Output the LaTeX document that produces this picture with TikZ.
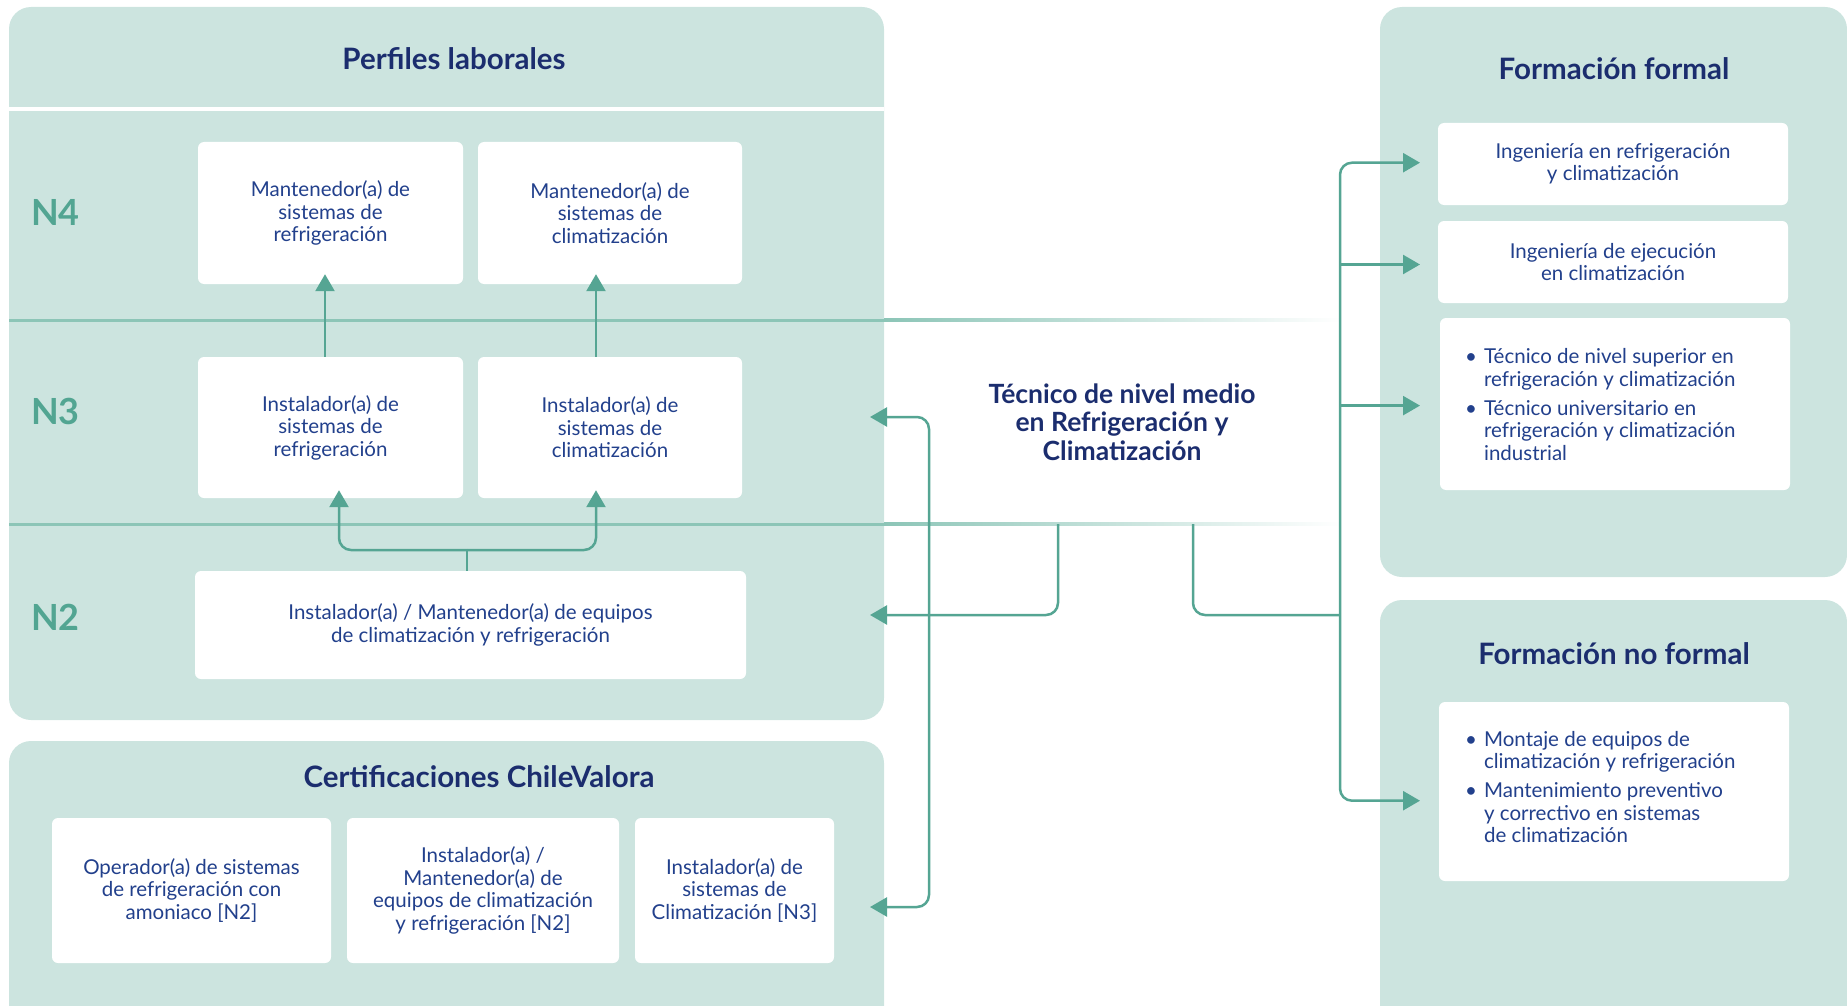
\documentclass[tikz,border=0pt]{standalone}
\usepackage{fontspec}
\setmainfont{Lato}
\usetikzlibrary{arrows.meta}
\definecolor{panelc}{HTML}{CCE4DF}
\definecolor{rowc}{HTML}{8CC5B7}
\definecolor{arrc}{HTML}{55A593}
\definecolor{lvlc}{HTML}{52A592}
\definecolor{navy}{HTML}{22408C}
\definecolor{navyd}{HTML}{1B2D6E}
\begin{document}
\begin{tikzpicture}[x=1pt,y=-1pt,
 panel/.style={fill=panelc, draw=none, rounded corners=22pt, inner sep=0pt},
 wbox/.style={fill=white, draw=none, rounded corners=6pt, inner sep=0pt, align=center, text=navy, font=\fontsize{20.5}{22.5}\selectfont},
 blist/.style={anchor=west, inner sep=0pt, text=navy, font=\fontsize{20.5}{22.4}\selectfont},
 ttl/.style={text=navyd, font=\fontsize{29.5}{34}\selectfont\bfseries, inner sep=0pt},
 lvl/.style={text=lvlc, font=\fontsize{36}{40}\selectfont\bfseries, anchor=west, inner sep=0pt},
 conn/.style={draw=arrc, line width=2.5pt, rounded corners=12pt},
 tip/.style={-{Triangle[length=17pt,width=19pt]}},
 tips/.style={{Triangle[length=17pt,width=19pt]}-{Triangle[length=17pt,width=19pt]}},
]
\useasboundingbox (0,0) rectangle (1847,1006);
\clip (0,0) rectangle (1847,1006);

% panels
\node[panel, minimum width=875pt, minimum height=713pt] (perf) at (446.5,363.5) {};
\node[panel, minimum width=875pt, minimum height=320pt] (cert) at (446.5,901) {};
\node[panel, minimum width=467pt, minimum height=570pt] (form) at (1613.5,292) {};
\node[panel, minimum width=467pt, minimum height=440pt] (nof) at (1613.5,820) {};

% header separator and row lines
\fill[white] (9,107) rectangle (884,111);
\fill[rowc] (9,318.5) rectangle (884,321.5);
\shade[left color=rowc, right color=white] (884,318.5) rectangle (1340,321.5);
\fill[rowc] (9,522.5) rectangle (884,525.5);
\shade[left color=rowc, right color=white] (884,522.5) rectangle (1340,525.5);

% titles
\node[ttl] (tperf) at (454,59) {Perfiles laborales};
\node[ttl] (tcert) at (479,777) {Certificaciones ChileValora};
\node[ttl] (tform) at (1614,69) {Formación formal};
\node[ttl] (tnof) at (1614,654) {Formación no formal};

% levels
\node[lvl] (l4) at (31,212) {N4};
\node[lvl] (l3) at (31,411) {N3};
\node[lvl] (l2) at (31,617) {N2};

% perfiles boxes
\node[wbox, minimum width=265pt, minimum height=142pt] (n4a) at (330.5,213) {Mantenedor(a) de\\sistemas de\\refrigeración};
\node[wbox, minimum width=264pt, minimum height=142pt] (n4b) at (610,213) {Mantenedor(a) de\\sistemas de\\climatización};
\node[wbox, minimum width=265pt, minimum height=141pt] (n3a) at (330.5,427.5) {Instalador(a) de\\sistemas de\\refrigeración};
\node[wbox, minimum width=264pt, minimum height=141pt] (n3b) at (610,427.5) {Instalador(a) de\\sistemas de\\climatización};
\node[wbox, minimum width=551pt, minimum height=108pt] (n2) at (470.5,625) {Instalador(a) / Mantenedor(a) de equipos\\de climatización y refrigeración};

% certificaciones boxes
\node[wbox, minimum width=279pt, minimum height=145pt] (c1) at (191.5,890.5) {Operador(a) de sistemas\\de refrigeración con\\amoniaco [N2]};
\node[wbox, minimum width=272pt, minimum height=145pt] (c2) at (483,890.5) {Instalador(a) /\\Mantenedor(a) de\\equipos de climatización\\y refrigeración [N2]};
\node[wbox, minimum width=199pt, minimum height=145pt] (c3) at (734.5,890.5) {Instalador(a) de\\sistemas de\\Climatización [N3]};

% formal boxes
\node[wbox, minimum width=350pt, minimum height=82pt] (fa) at (1613,164) {Ingeniería en refrigeración\\y climatización};
\node[wbox, minimum width=350pt, minimum height=82pt] (fb) at (1613,262) {Ingeniería de ejecución\\en climatización};
\node[wbox, minimum width=350pt, minimum height=172pt] (fc) at (1615,404) {};
\node[blist] (fct) at (1465,407.5) {\begin{tabular}{@{}l@{\hspace{7pt}}l@{}}•&Técnico de nivel superior en\\&refrigeración y climatización\\[7pt]•&Técnico universitario en\\&refrigeración y climatización\\&industrial\end{tabular}};
\node[wbox, minimum width=350pt, minimum height=179pt] (fm) at (1614,791.5) {};
\node[blist] (fmt) at (1465,790) {\begin{tabular}{@{}l@{\hspace{7pt}}l@{}}•&Montaje de equipos de\\&climatización y refrigeración\\[7pt]•&Mantenimiento preventivo\\&y correctivo en sistemas\\&de climatización\end{tabular}};

% central title
\node[text=navyd, font=\fontsize{26.5}{28.5}\selectfont\bfseries, align=center, inner sep=0pt] (tec) at (1122,422) {Técnico de nivel medio\\en Refrigeración y\\Climatización};

% connectors inside perfiles
\draw[conn, tip] ([xshift=-5.5pt]n3a.north) -- ([xshift=-5.5pt,yshift=10pt]n4a.south);
\draw[conn, tip] ([xshift=-14pt]n3b.north) -- ([xshift=-14pt,yshift=10pt]n4b.south);
\coordinate (j2) at (467,550);
\draw[conn] ([xshift=-3.5pt]n2.north) -- (j2);
\draw[conn, tip] (j2) -| ([xshift=8.5pt,yshift=8pt]n3a.south);
\draw[conn, tip] (j2) -| ([xshift=-14pt,yshift=8pt]n3b.south);

% middle connectors
\coordinate (pN3) at (870,417);
\coordinate (pN2) at (870,615);
\coordinate (pC) at (870,907);
\coordinate (vx) at (929,660);
\draw[conn, tips] (pN3) -| (vx) |- (pC);
\coordinate (sl) at (1058,524);
\coordinate (sr) at (1193,524);
\draw[conn, tip] (sl) |- (pN2);
\coordinate (tk) at (1340,615);
\draw[conn] (sr) |- (tk);
\coordinate (fAin) at (1420,162.7);
\coordinate (fBin) at (1420,264.5);
\coordinate (fCin) at (1420,405.6);
\coordinate (fMin) at (1420,800.7);
\coordinate (tm) at (1340,480);
\draw[conn, tips] (fAin) -| (tm) |- (fMin);
\draw[conn, tip] (tk |- fBin) -- (fBin);
\draw[conn, tip] (tk |- fCin) -- (fCin);
\end{tikzpicture}
\end{document}
